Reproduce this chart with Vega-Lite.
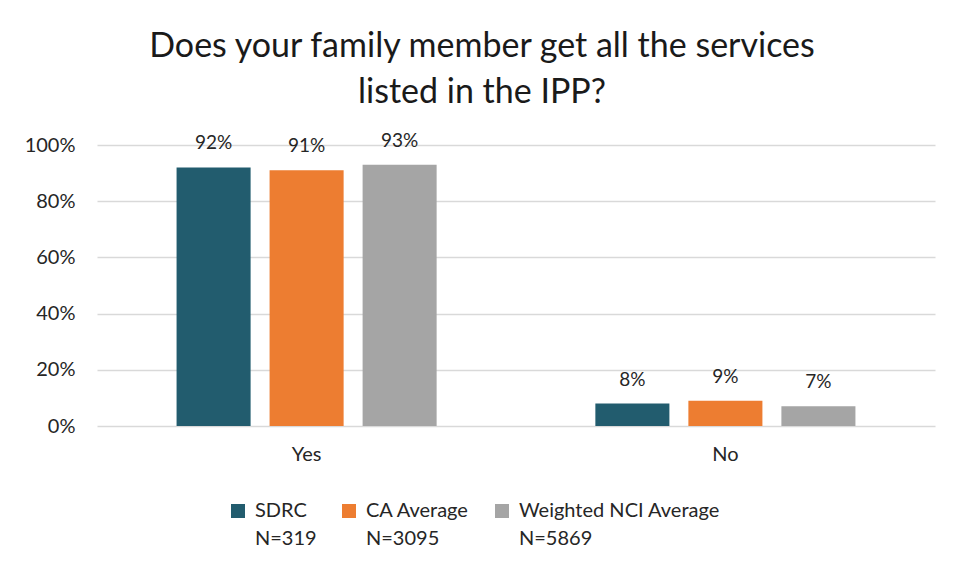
{
  "$schema": "https://vega.github.io/schema/vega-lite/v6.json",
  "autosize": "none",
  "width": 838,
  "height": 281,
  "padding": {"left": 97, "top": 145, "right": 25, "bottom": 151},
  "background": "white",
  "title": {
    "text": ["Does your family member get all the services", "listed in the IPP?"],
    "fontSize": 34,
    "font": "Lato",
    "fontWeight": "normal",
    "color": "#1a1a1a",
    "lineHeight": 46,
    "anchor": "middle",
    "dx": -34,
    "offset": 22
  },
  "data": {
    "values": [
      {"answer": "Yes", "group": "SDRC|N=319", "value": 0.92},
      {"answer": "Yes", "group": "CA Average|N=3095", "value": 0.91},
      {"answer": "Yes", "group": "Weighted NCI Average|N=5869", "value": 0.93},
      {"answer": "No", "group": "SDRC|N=319", "value": 0.08},
      {"answer": "No", "group": "CA Average|N=3095", "value": 0.09},
      {"answer": "No", "group": "Weighted NCI Average|N=5869", "value": 0.07}
    ]
  },
  "encoding": {
    "x": {
      "field": "answer",
      "type": "nominal",
      "sort": ["Yes", "No"],
      "scale": {"paddingInner": 0.379, "paddingOuter": 0.19},
      "axis": {"title": null, "labelAngle": 0, "ticks": false, "domain": false, "labelFontSize": 20, "labelFont": "Lato", "labelColor": "#262626", "labelPadding": 18}
    },
    "xOffset": {
      "field": "group",
      "type": "nominal",
      "sort": ["SDRC|N=319", "CA Average|N=3095", "Weighted NCI Average|N=5869"],
      "scale": {"paddingInner": 0.204, "paddingOuter": 0}
    },
    "y": {
      "field": "value",
      "type": "quantitative",
      "scale": {"domain": [0, 1]},
      "axis": {"title": null, "format": ".0%", "values": [0, 0.2, 0.4, 0.6, 0.8, 1], "labelOverlap": false, "labelFlush": false, "ticks": false, "domain": false, "labelFontSize": 20, "labelFont": "Lato", "labelColor": "#262626", "labelPadding": 22, "gridColor": "#D9D9D9", "gridWidth": 1.5}
    },
    "color": {
      "field": "group",
      "type": "nominal",
      "sort": ["SDRC|N=319", "CA Average|N=3095", "Weighted NCI Average|N=5869"],
      "scale": {"range": ["#225C6E", "#ED7D31", "#A5A5A5"]},
      "legend": {
        "title": null,
        "orient": "none",
        "legendX": 131,
        "legendY": 356,
        "direction": "horizontal",
        "symbolType": "square",
        "symbolSize": 196,
        "symbolStrokeWidth": 0,
        "labelFontSize": 20,
        "labelFont": "Lato",
        "labelColor": "#262626",
        "labelOffset": 7,
        "labelBaseline": "top",
        "labelLimit": 300,
        "columnPadding": 22,
        "labelExpr": "split(datum.label, '|')",
        "encode": {"labels": {"update": {"dy": {"value": -10}, "lineHeight": {"value": 28}}}}
      }
    }
  },
  "layer": [
    {"mark": {"type": "bar"}},
    {
      "mark": {"type": "text", "dy": -14, "baseline": "bottom", "fontSize": 19, "font": "Lato", "color": "#262626"},
      "encoding": {
        "text": {"field": "value", "type": "quantitative", "format": ".0%"},
        "color": {"value": "#262626"}
      }
    }
  ],
  "config": {"view": {"stroke": null}}
}
